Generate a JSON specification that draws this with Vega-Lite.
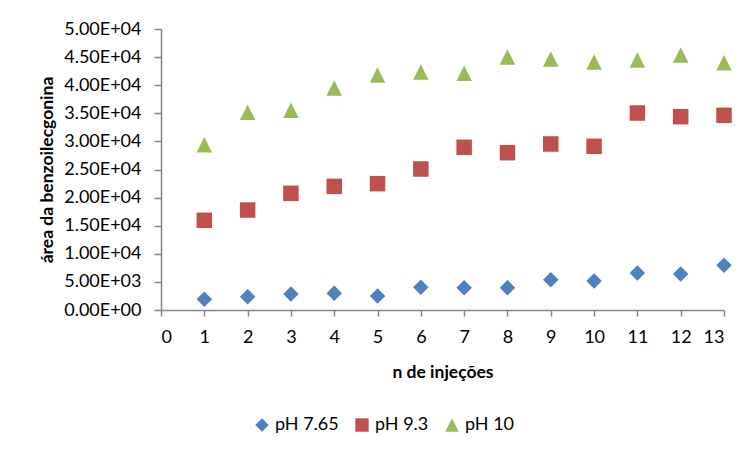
{
  "$schema": "https://vega.github.io/schema/vega-lite/v6.json",
  "width": 563,
  "height": 281,
  "autosize": {"type": "none"},
  "padding": {"left": 161, "top": 29, "right": 25, "bottom": 144},
  "background": "white",
  "data": {
    "values": [
      {"n": 1, "area": 1900, "serie": "pH 7.65"},
      {"n": 2, "area": 2370, "serie": "pH 7.65"},
      {"n": 3, "area": 2850, "serie": "pH 7.65"},
      {"n": 4, "area": 2970, "serie": "pH 7.65"},
      {"n": 5, "area": 2490, "serie": "pH 7.65"},
      {"n": 6, "area": 4040, "serie": "pH 7.65"},
      {"n": 7, "area": 3970, "serie": "pH 7.65"},
      {"n": 8, "area": 3970, "serie": "pH 7.65"},
      {"n": 9, "area": 5390, "serie": "pH 7.65"},
      {"n": 10, "area": 5160, "serie": "pH 7.65"},
      {"n": 11, "area": 6580, "serie": "pH 7.65"},
      {"n": 12, "area": 6400, "serie": "pH 7.65"},
      {"n": 13, "area": 7950, "serie": "pH 7.65"},
      {"n": 1, "area": 15960, "serie": "pH 9.3"},
      {"n": 2, "area": 17790, "serie": "pH 9.3"},
      {"n": 3, "area": 20760, "serie": "pH 9.3"},
      {"n": 4, "area": 22000, "serie": "pH 9.3"},
      {"n": 5, "area": 22480, "serie": "pH 9.3"},
      {"n": 6, "area": 25090, "serie": "pH 9.3"},
      {"n": 7, "area": 28950, "serie": "pH 9.3"},
      {"n": 8, "area": 27990, "serie": "pH 9.3"},
      {"n": 9, "area": 29540, "serie": "pH 9.3"},
      {"n": 10, "area": 29130, "serie": "pH 9.3"},
      {"n": 11, "area": 35050, "serie": "pH 9.3"},
      {"n": 12, "area": 34400, "serie": "pH 9.3"},
      {"n": 13, "area": 34640, "serie": "pH 9.3"},
      {"n": 1, "area": 29410, "serie": "pH 10"},
      {"n": 2, "area": 35180, "serie": "pH 10"},
      {"n": 3, "area": 35530, "serie": "pH 10"},
      {"n": 4, "area": 39500, "serie": "pH 10"},
      {"n": 5, "area": 41820, "serie": "pH 10"},
      {"n": 6, "area": 42350, "serie": "pH 10"},
      {"n": 7, "area": 42110, "serie": "pH 10"},
      {"n": 8, "area": 45020, "serie": "pH 10"},
      {"n": 9, "area": 44660, "serie": "pH 10"},
      {"n": 10, "area": 44130, "serie": "pH 10"},
      {"n": 11, "area": 44480, "serie": "pH 10"},
      {"n": 12, "area": 45370, "serie": "pH 10"},
      {"n": 13, "area": 44000, "serie": "pH 10"}
    ]
  },
  "mark": {"type": "point", "filled": true, "opacity": 1, "size": 240},
  "encoding": {
    "x": {
      "field": "n",
      "type": "quantitative",
      "scale": {"domain": [0, 13], "nice": false},
      "axis": {
        "title": "n de injeções",
        "values": [0, 1, 2, 3, 4, 5, 6, 7, 8, 9, 10, 11, 12, 13],
        "format": "d",
        "tickSize": 6,
        "labelPadding": 12,
        "titlePadding": 17
      }
    },
    "y": {
      "field": "area",
      "type": "quantitative",
      "scale": {"domain": [0, 50000], "nice": false},
      "axis": {
        "title": "área da benzoilecgonina",
        "values": [0, 5000, 10000, 15000, 20000, 25000, 30000, 35000, 40000, 45000, 50000],
        "labelExpr": "replace(format(datum.value, '.2e'), 'e+', 'E+0')",
        "tickSize": 7,
        "labelPadding": 13,
        "titlePadding": 7
      }
    },
    "color": {
      "field": "serie",
      "type": "nominal",
      "scale": {"domain": ["pH 7.65", "pH 9.3", "pH 10"], "range": ["#4F81BD", "#C0504D", "#9BBB59"]},
      "legend": {"title": null}
    },
    "shape": {
      "field": "serie",
      "type": "nominal",
      "scale": {"domain": ["pH 7.65", "pH 9.3", "pH 10"], "range": ["diamond", "square", "M0,-1L1,1L-1,1Z"]},
      "legend": {"title": null}
    }
  },
  "config": {
    "view": {"stroke": null},
    "font": "Lato",
    "axis": {
      "grid": false,
      "domainColor": "#868686",
      "tickColor": "#868686",
      "labelColor": "#000000",
      "titleColor": "#000000",
      "labelFont": "Lato",
      "labelFontSize": 18,
      "titleFont": "Lato",
      "titleFontSize": 17.5,
      "titleFontWeight": "bold",
      "domainWidth": 1.5,
      "tickWidth": 1.5
    },
    "legend": {
      "orient": "none",
      "direction": "horizontal",
      "legendX": 92,
      "legendY": 387,
      "labelFont": "Lato",
      "labelFontSize": 18,
      "labelColor": "#000000",
      "symbolSize": 180,
      "symbolStrokeWidth": 0,
      "labelOffset": 4,
      "columnPadding": 14
    }
  }
}
